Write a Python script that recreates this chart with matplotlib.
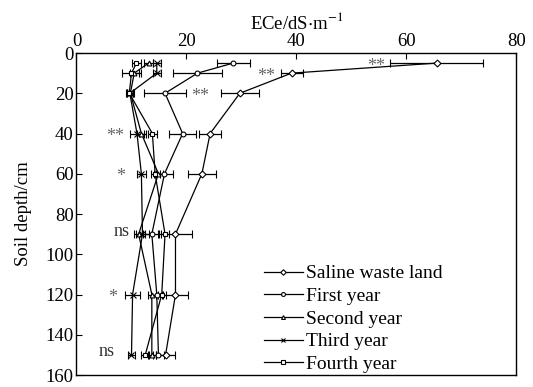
import matplotlib
matplotlib.use("Agg")
import matplotlib.pyplot as plt
from matplotlib.lines import Line2D

plt.rcParams['font.family'] = ['Liberation Serif', 'DejaVu Serif']
plt.rcParams['mathtext.fontset'] = 'stix'

# soil depth (cm)
depths = [5, 10, 20, 40, 60, 90, 120, 150]

# ECe values
saline = [65.5, 39.1, 29.7, 24.3, 22.8, 18.0, 18.0, 16.2]
saline_err = [8.5, 2.0, 3.5, 2.0, 2.5, 3.0, 2.3, 1.8]
first = [28.5, 22.0, 16.1, 19.3, 16.0, 13.7, 14.6, 14.9]
first_err = [3.0, 4.4, 3.8, 2.5, 1.5, 1.2, 1.0, 1.0]
second = [13.1, 10.5, 9.8, 11.8, 14.9, 11.3, 13.7, 13.7]
second_err = [0.8, 0.8, 0.6, 0.8, 0.8, 0.8, 0.7, 0.7]
third = [14.6, 14.6, 9.7, 11.0, 11.8, 12.0, 10.2, 10.0]
third_err = [0.7, 0.7, 0.6, 1.2, 0.8, 1.2, 1.4, 0.6]
fourth = [10.9, 10.0, 9.6, 13.8, 14.3, 16.1, 15.5, 12.5]
fourth_err = [0.8, 1.8, 0.6, 0.8, 0.8, 0.8, 0.7, 0.7]

labels = ['Saline waste land', 'First year', 'Second year', 'Third year', 'Fourth year']
markers = ['D', 'o', '^', 'x', 's']
sizes = [3.5, 3.5, 3.5, 4, 3.5]

# significance marks
sig_text = ['**', '**', '**', '**', '*', 'ns', '*', 'ns']
sig_x = [54.5, 34.5, 22.5, 7.0, 8.0, 8.2, 6.5, 5.5]

fig = plt.figure(figsize=(5.33, 3.87), dpi=100)
ax = fig.add_axes([0.1435, 0.031, 0.8255, 0.832])

series = [(saline, saline_err), (first, first_err), (second, second_err),
          (third, third_err), (fourth, fourth_err)]
handles = []
for (vals, errs), lab, mk, ms in zip(series, labels, markers, sizes):
    ax.errorbar(vals, depths, xerr=errs, color='black', lw=0.9,
                marker=mk, ms=ms, mfc='white', mec='black', mew=0.8,
                capsize=3, elinewidth=0.9, capthick=0.9)
    handles.append(Line2D([], [], color='black', lw=0.9, marker=mk, ms=ms * 0.8,
                          mfc='white', mec='black', mew=0.8, label=lab))

for t, x, d in zip(sig_text, sig_x, depths):
    if t == 'ns':
        ax.text(x, d - 1.5, t, ha='center', va='center', fontsize=13, color='#333333')
    else:
        ax.text(x, d + 1.5, t, ha='center', va='center', fontsize=13, color='#666666')

ax.set_xlim(0, 80)
ax.set_ylim(160, 0)
ax.set_xticks([0, 20, 40, 60, 80])
ax.set_yticks(range(0, 161, 20))
ax.xaxis.tick_top()
ax.xaxis.set_label_position('top')
ax.tick_params(direction='in', length=4, width=0.8, labelsize=13.5, pad=2)
ax.set_xlabel('ECe/dS$\\cdot$m$^{-1}$', fontsize=13.5, labelpad=3)
ax.set_ylabel('Soil depth/cm', fontsize=13.5, labelpad=10)
for s in ax.spines.values():
    s.set_linewidth(1.0)

ax.legend(handles=handles, loc='lower left', bbox_to_anchor=(0.395, -0.036),
          frameon=False, fontsize=14, handlelength=2.0, handletextpad=0.15,
          labelspacing=0.26, borderaxespad=0.3)

fig.savefig('out.png', dpi=100)
